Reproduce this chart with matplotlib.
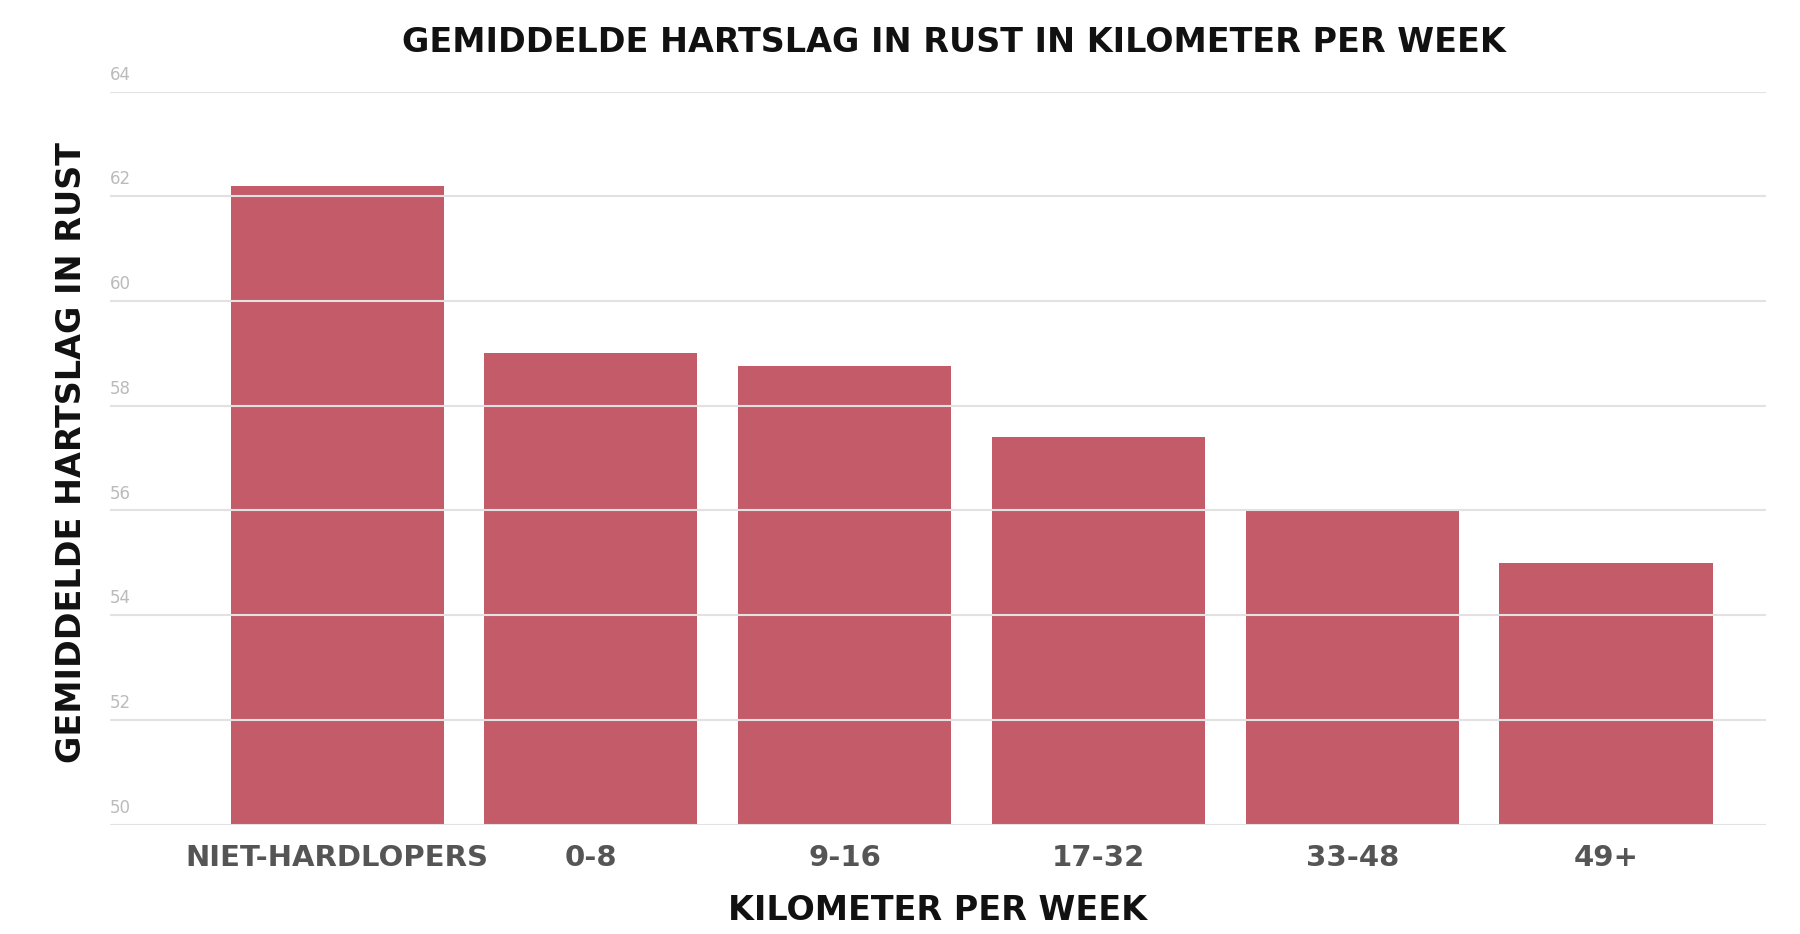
import matplotlib
matplotlib.use("Agg")
import matplotlib.pyplot as plt
from matplotlib.transforms import blended_transform_factory

categories = ["NIET-HARDLOPERS", "0-8", "9-16", "17-32", "33-48", "49+"]
values = [62.2, 59.0, 58.75, 57.4, 56.0, 55.0]
yticks = [50, 52, 54, 56, 58, 60, 62, 64]

fam = ["Liberation Sans Narrow", "DejaVu Sans"]
fig = plt.figure(figsize=(18, 9.34), dpi=100)
ax = fig.add_axes([0.061, 0.117, 0.92, 0.785])
x = list(range(len(categories)))
ax.bar(x, values, width=0.84, color="#c45b69", zorder=1)
ax.set_xlim(-0.896, 5.63)
ax.set_ylim(50, 64)
for t in yticks:
    ax.axhline(t, color="#e2e2e2", lw=1.5, zorder=2)
tr = blended_transform_factory(ax.transAxes, ax.transData)
for t in yticks:
    ax.text(0.0, t + 0.15, str(t), transform=tr, fontsize=12, color="#bbbbbb",
            ha="left", va="bottom", family=fam)
ax.set_yticks([])
ax.set_xticks(x)
ax.set_xticklabels(categories, fontsize=21, color="#555555", family=fam, fontweight="bold")
ax.tick_params(axis="x", length=0, pad=14)
for s in ax.spines.values():
    s.set_visible(False)
ax.set_xlabel("KILOMETER PER WEEK", fontsize=24, fontweight="bold", family=fam, labelpad=16, color="#111111")
fig.text(0.04, 0.515, "GEMIDDELDE HARTSLAG IN RUST", rotation=90, fontsize=24, fontweight="bold",
         family=fam, ha="center", va="center", color="#111111")
fig.text(0.53, 0.955, "GEMIDDELDE HARTSLAG IN RUST IN KILOMETER PER WEEK", fontsize=24,
         fontweight="bold", family=fam, ha="center", va="center", color="#111111")
fig.savefig("out.png")
